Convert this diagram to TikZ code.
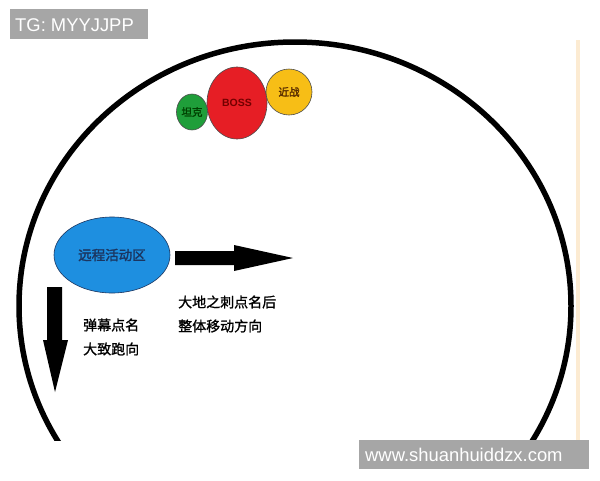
\documentclass[tikz,border=0pt]{standalone}
\usepackage{fontspec}
\usetikzlibrary{shapes.geometric}
\setmainfont{Liberation Sans}
\newfontfamily\cjk{Noto Sans CJK SC}[FakeBold=1.2]
\newfontfamily\cjkbold{Noto Sans CJK SC}[FakeBold=2]
\definecolor{wmgray}{HTML}{A6A6A6}
\definecolor{bossred}{HTML}{E61E25}
\definecolor{tankgreen}{HTML}{1F9E3A}
\definecolor{meleeyel}{HTML}{F7BE16}
\definecolor{zoneblue}{HTML}{1E8FE0}
\definecolor{zonetext}{HTML}{1B3560}
\definecolor{edgepeach}{HTML}{FCEBD2}
\begin{document}
\begin{tikzpicture}[x=1pt,y=-1pt,
  wmbox/.style={fill=wmgray,draw=none,text=white,font=\fontsize{18.4}{18.4}\selectfont,inner sep=0pt},
  blob/.style={ellipse,draw=black!70,line width=0.6pt,inner sep=0pt},
  cntext/.style={font=\cjk\fontsize{14}{14}\selectfont,anchor=west,inner sep=0pt},
  blockarrow/.style={fill=black,draw=none}]
\useasboundingbox (0,0) rectangle (600,480);
\fill[white] (0,0) rectangle (600,480);
% faint right edge
\fill[edgepeach] (576,40) rectangle (580,440);
% big ring, cut at the picture bottom
\begin{scope}
\clip (0,0) rectangle (600,440);
\draw[line width=5.5pt] (295,306) ellipse [x radius=276, y radius=264];
\end{scope}
% boss group
\node[blob,fill=tankgreen,minimum width=31,minimum height=36] (tank) at (192,112) {};
\node[blob,fill=bossred,minimum width=60,minimum height=72] (boss) at (237,103) {};
\node[blob,fill=meleeyel,minimum width=46,minimum height=46] (melee) at (289,92) {};
\node[font=\cjkbold\fontsize{10.5}{10.5}\selectfont,text=black!75!green] at (tank) {坦克};
\node[font=\bfseries\fontsize{10.5}{10.5}\selectfont,text=black!55!red] at (boss) {BOSS};
\node[font=\cjkbold\fontsize{10.5}{10.5}\selectfont,text=black!65!orange] at (melee) {近战};
% ranged zone
\node[ellipse,fill=zoneblue,draw=zonetext,line width=0.6pt,minimum width=116,minimum height=76,inner sep=0pt] (zone) at (112,255) {};
\node[font=\cjkbold\fontsize{13.5}{13.5}\selectfont,text=zonetext] at (zone) {远程活动区};
% right block arrow
\fill[blockarrow] (175,251) -- (234,251) -- (234,245) -- (293,258) -- (234,271) -- (234,265) -- (175,265) -- cycle;
% down block arrow
\fill[blockarrow] (47,287) -- (62,287) -- (62,340) -- (68,340) -- (55,392) -- (43,340) -- (47,340) -- cycle;
% labels
\node[cntext] (l1) at (83,325) {弹幕点名};
\node[cntext] (l2) at (83,349) {大致跑向};
\node[cntext] (r1) at (178,302) {大地之刺点名后};
\node[cntext] (r2) at (178,326) {整体移动方向};
% watermarks
\fill[wmgray] (10,9) rectangle (148,39);
\node[wmbox,anchor=west] (tg) at (15,25) {TG: MYYJJPP};
\fill[wmgray] (359,440) rectangle (589,469);
\node[wmbox,anchor=west] (www) at (365,455) {www.shuanhuiddzx.com};
\end{tikzpicture}
\end{document}
